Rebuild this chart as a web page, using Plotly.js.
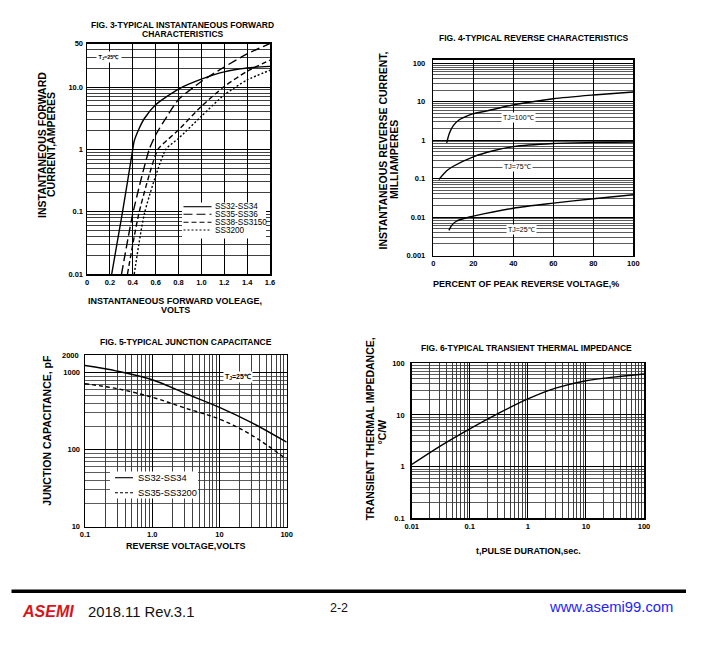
<!DOCTYPE html>
<html>
<head>
<meta charset="utf-8">
<script src="https://cdn.plot.ly/plotly-3.0.1.min.js"></script>
<style>
html,body{margin:0;padding:0;background:#fff;}
#chart{width:701px;height:649px;}
</style>
</head>
<body>
<div id="chart"></div>
<script>
// ---------------- DATA ----------------
// Fig. 3 - forward characteristics (V, A)
const fwdV_SS32 = [0.216, 0.311, 0.40, 0.412, 0.45, 0.5, 0.6, 0.8, 1.0, 1.2, 1.4, 1.6];
const fwdI_SS32 = [0.01, 0.1, 1.0, 1.35, 2.05, 3.1, 5.2, 9.3, 13.4, 17.5, 20.2, 21.5];
const fwdV_SS35 = [0.302, 0.404, 0.544, 0.6, 0.7, 0.8, 1.0, 1.2, 1.4, 1.6];
const fwdI_SS35 = [0.01, 0.1, 1.0, 1.7, 3.4, 6.3, 12.3, 21, 34, 50];
const fwdV_SS38 = [0.354, 0.457, 0.62, 0.7, 0.8, 1.0, 1.2, 1.4, 1.6];
const fwdI_SS38 = [0.01, 0.1, 1.0, 1.4, 2.05, 4.9, 10.2, 17.9, 27];
const fwdV_SS3200 = [0.413, 0.506, 0.69, 0.8, 1.0, 1.2, 1.4, 1.6];
const fwdI_SS3200 = [0.01, 0.1, 1.0, 1.5, 3.4, 7.5, 13, 18.6];
const fig3Legend = ['SS32-SS34', 'SS35-SS36', 'SS38-SS3150', 'SS3200'];
const fig3XTicks = [0, 0.2, 0.4, 0.6, 0.8, 1.0, 1.2, 1.4, 1.6];
const fig3XTickText = ['0', '0.2', '0.4', '0.6', '0.8', '1.0', '1.2', '1.4', '1.6'];
const fig3YTicks = [0.01, 0.1, 1, 10, 50];
const fig3YTickText = ['0.01', '0.1', '1', '10.0', '50'];

// Fig. 4 - reverse characteristics (% of peak reverse voltage, mA)
const revPct_100 = [6.7, 8, 10, 13, 17, 20, 27, 40, 60, 80, 100];
const revI_100 = [0.85, 1.5, 2.4, 3.4, 4.3, 4.9, 5.8, 8.3, 12, 15, 18];
const revPct_75 = [2.8, 6.7, 10, 20, 30, 40, 60, 80, 100];
const revI_75 = [0.095, 0.16, 0.21, 0.37, 0.53, 0.68, 0.82, 0.88, 0.9];
const revPct_25 = [7.8, 9.2, 11.7, 16.7, 20, 40, 60, 80, 100];
const revI_25 = [0.0045, 0.0061, 0.0079, 0.0096, 0.0106, 0.017, 0.023, 0.03, 0.038];
const fig4Labels = ['TJ=100℃', 'TJ=75℃', 'TJ=25℃'];
const fig4XTicks = [0, 20, 40, 60, 80, 100];
const fig4YTicks = [0.001, 0.01, 0.1, 1, 10, 100];
const fig4YTickText = ['0.001', '0.01', '0.1', '1', '10', '100'];

// Fig. 5 - junction capacitance (V, pF)
const capV = [0.1, 0.3, 1, 3, 10, 30, 100];
const capC_SS32 = [1240, 1050, 810, 545, 355, 225, 125];
const capC_SS35 = [720, 620, 480, 350, 250, 155, 75];
const fig5Legend = ['SS32-SS34', 'SS35-SS3200'];
const fig5XTicks = [0.1, 1, 10, 100];
const fig5XTickText = ['0.1', '1.0', '10', '100'];
const fig5YTicks = [10, 100, 1000];
const fig5YTickText = ['10', '100', '1000'];
const fig5TopLabel = '2000';

// Fig. 6 - transient thermal impedance (s, °C/W)
const pulseT = [0.01, 0.03, 0.1, 0.3, 1, 3, 10, 30, 100];
const thermZ = [1.1, 2.45, 5.4, 10.5, 20.4, 33, 46, 54, 62];
const fig6XTicks = [0.01, 0.1, 1, 10, 100];
const fig6XTickText = ['0.01', '0.1', '1', '10', '100'];
const fig6YTicks = [0.1, 1, 10, 100];
const fig6YTickText = ['0.1', '1', '10', '100'];

// ---------------- LAYOUT HELPERS ----------------
const W = 701, H = 649;
const FONT = 'Liberation Sans, Arial, Helvetica, sans-serif';
const px = v => v / W;
const py = v => 1 - v / H;
const dX = (a, b) => [a / W, b / W];
const dY = (top, bottom) => [1 - bottom / H, 1 - top / H];

function logMinor(lo, hi) {
  const out = [];
  for (let k = lo; k < hi; k++) {
    for (let d = 2; d <= 9; d++) out.push(d * Math.pow(10, k));
  }
  return out;
}

const tickFont = {family: FONT, size: 7.5, color: '#000', weight: 'bold'};
function axis(extra) {
  return Object.assign({
    showline: true, mirror: true, linecolor: '#000', linewidth: 1.5,
    showgrid: true, gridcolor: '#000', gridwidth: 1,
    zeroline: false, ticks: '', tickfont: tickFont, fixedrange: true,
    tickmode: 'array'
  }, extra);
}
function minorGrid(vals, color) {
  return {tickmode: 'array', tickvals: vals, showgrid: true, gridcolor: color || '#111', gridwidth: 0.8, ticks: ''};
}

function line(x, y, xa, ya, dash, smooth) {
  return {
    x: x, y: y, xaxis: xa, yaxis: ya, mode: 'lines', hoverinfo: 'skip', showlegend: false,
    line: {color: '#000', width: 1.4, dash: dash || 'solid', shape: 'spline', smoothing: smooth || 0.8}
  };
}

const dashStyles3 = ['solid', '9px,4px', '5px,3px', '2px,2px'];

const traces = [
  line(fwdV_SS32, fwdI_SS32, 'x', 'y', dashStyles3[0], 0.6),
  line(fwdV_SS35, fwdI_SS35, 'x', 'y', dashStyles3[1], 0.6),
  line(fwdV_SS38, fwdI_SS38, 'x', 'y', dashStyles3[2], 0.6),
  line(fwdV_SS3200, fwdI_SS3200, 'x', 'y', dashStyles3[3], 0.6),
  line(revPct_100, revI_100, 'x2', 'y2', 'solid', 0.7),
  line(revPct_75, revI_75, 'x2', 'y2', 'solid', 0.7),
  line(revPct_25, revI_25, 'x2', 'y2', 'solid', 0.7),
  line(capV, capC_SS32, 'x3', 'y3', 'solid', 1),
  line(capV, capC_SS35, 'x3', 'y3', '4px,3px', 1),
  line(pulseT, thermZ, 'x4', 'y4', 'solid', 1)
];

// ---------------- ANNOTATIONS ----------------
function txt(text, x, y, size, opts) {
  return Object.assign({
    text: text, x: px(x), y: py(y), xref: 'paper', yref: 'paper',
    showarrow: false, xanchor: 'center', yanchor: 'middle',
    font: {family: FONT, size: size, color: '#000', weight: 'bold'}
  }, opts || {});
}
function vtxt(text, x, y, size) {
  return txt(text, x, y, size, {textangle: -90});
}
const plainFont = s => ({family: FONT, size: s, color: '#000'});

const annotations = [
  // Fig 3
  txt('FIG. 3-TYPICAL INSTANTANEOUS FORWARD', 182.5, 25, 8.5),
  txt('CHARACTERISTICS', 182.5, 34, 8.5),
  vtxt('INSTANTANEOUS FORWARD', 42, 145, 10.5),
  vtxt('CURRENT,AMPERES', 51, 145, 10.5),
  txt('INSTANTANEOUS FORWARD VOLEAGE,', 175.5, 301, 9),
  txt('VOLTS', 175.5, 309.5, 9),
  txt('T<sub>J</sub>=25℃', 108.5, 57, 5.5, {bgcolor: '#fff', borderpad: 1.5}),
  // Fig 4
  txt('FIG. 4-TYPICAL REVERSE CHARACTERISTICS', 533.5, 37.7, 8.5),
  vtxt('INSTANTANEOUS REVERSE CURRENT,', 382.5, 151, 10.5),
  vtxt('MILLIAMPERES', 394, 160, 10.5),
  txt('PERCENT OF PEAK REVERSE VOLTAGE,%', 525.5, 284.3, 9),
  txt(fig4Labels[0], 518, 117.7, 7, {bgcolor: '#fff', borderpad: 1, font: plainFont(7)}),
  txt(fig4Labels[1], 517, 166.8, 7, {bgcolor: '#fff', borderpad: 1, font: plainFont(7)}),
  txt(fig4Labels[2], 521.5, 229, 7, {bgcolor: '#fff', borderpad: 1, font: plainFont(7)}),
  // Fig 5
  txt('FIG. 5-TYPICAL JUNCTION CAPACITANCE', 185.8, 341.7, 8.5),
  vtxt('JUNCTION CAPACITANCE, pF', 46.7, 430, 10.5),
  txt('REVERSE VOLTAGE,VOLTS', 185.8, 546, 9),
  txt('T<sub>J</sub>=25℃', 237.5, 376.7, 7, {bgcolor: '#fff', borderpad: 1}),
  txt(fig5TopLabel, 80.5, 355.5, 7.5, {xanchor: 'right'}),
  // Fig 6
  txt('FIG. 6-TYPICAL TRANSIENT THERMAL IMPEDANCE', 526.7, 348.3, 8.5),
  vtxt('TRANSIENT THERMAL IMPEDANCE,', 370, 428.3, 10.5),
  vtxt('°C/W', 381.7, 431.7, 10.5),
  txt('t,PULSE DURATION,sec.', 528.3, 550.7, 9),
  // footer
  txt('ASEMI', 47.5, 611, 16, {font: {family: FONT, size: 16, color: '#d6161c', weight: 'bold', style: 'italic'}}),
  txt('2018.11 Rev.3.1', 86, 611.5, 14.8, {xanchor: 'left', font: {family: FONT, size: 14.8, color: '#111'}}),
  txt('2-2', 338.5, 608, 12.5, {font: {family: FONT, size: 12.5, color: '#111'}}),
  txt('www.asemi99.com', 675, 606.5, 14.8, {xanchor: 'right', font: {family: FONT, size: 14.8, color: '#2323ff'}})
];

// legend texts
const leg3Rows = [206.7, 214.3, 222.3, 230];
fig3Legend.forEach((t, i) => {
  annotations.push(txt(t, 213.3, leg3Rows[i], 8.2, {xanchor: 'left', font: plainFont(8.2)}));
});
const leg5Rows = [477.7, 492.7];
fig5Legend.forEach((t, i) => {
  annotations.push(txt(t, 136, leg5Rows[i], 9.3, {xanchor: 'left', font: plainFont(9.3)}));
});

// ---------------- SHAPES ----------------
const shapes = [
  // legend boxes (white, over the grid)
  {type: 'rect', xref: 'paper', yref: 'paper', x0: px(182), x1: px(266), y0: py(238.5), y1: py(202.5),
   fillcolor: '#ffffff', opacity: 1, line: {width: 0}, layer: 'above'},
  {type: 'rect', xref: 'paper', yref: 'paper', x0: px(110), x1: px(198), y0: py(498.5), y1: py(471.5),
   fillcolor: '#ffffff', opacity: 1, line: {width: 0}, layer: 'above'},
  // footer rule
  {type: 'line', xref: 'paper', yref: 'paper', x0: px(11.5), x1: px(686), y0: py(591.3), y1: py(591.3),
   line: {color: '#000', width: 3.5}}
];
dashStyles3.forEach((d, i) => {
  shapes.push({type: 'line', xref: 'paper', yref: 'paper', x0: px(183.5), x1: px(211.5),
    y0: py(leg3Rows[i]), y1: py(leg3Rows[i]), line: {color: '#000', width: 1.1, dash: d}, layer: 'above'});
});
['solid', '3px,2px'].forEach((d, i) => {
  shapes.push({type: 'line', xref: 'paper', yref: 'paper', x0: px(115), x1: px(133),
    y0: py(leg5Rows[i]), y1: py(leg5Rows[i]), line: {color: '#000', width: 1.1, dash: d}, layer: 'above'});
});

// ---------------- AXES ----------------
const layout = {
  width: W, height: H,
  margin: {l: 0, r: 0, t: 0, b: 0, pad: 0},
  paper_bgcolor: '#fff', plot_bgcolor: '#fff',
  showlegend: false,
  font: {family: FONT, color: '#000'},
  // Fig 3
  xaxis: axis({domain: dX(87, 270), range: [0, 1.6], anchor: 'y',
    tickvals: fig3XTicks, ticktext: fig3XTickText}),
  yaxis: axis({domain: dY(43.5, 274), type: 'log', range: [-2, Math.log10(50)], anchor: 'x',
    tickvals: fig3YTicks, ticktext: fig3YTickText, ticklabelstandoff: 1,
    minor: minorGrid(logMinor(-2, 2))}),
  // Fig 4
  xaxis2: axis({domain: dX(433.3, 633.3), range: [0, 100], anchor: 'y2',
    tickvals: fig4XTicks, ticktext: fig4XTicks.map(String)}),
  yaxis2: axis({domain: dY(59.5, 255.5), type: 'log', range: [-3, 2.1], anchor: 'x2',
    tickvals: fig4YTicks, ticktext: fig4YTickText, ticklabelstandoff: 5,
    minor: minorGrid(logMinor(-3, 3), '#333')}),
  // Fig 5
  xaxis3: axis({domain: dX(85, 286.7), type: 'log', range: [-1, 2], anchor: 'y3',
    tickvals: fig5XTicks, ticktext: fig5XTickText,
    minor: minorGrid(logMinor(-1, 2))}),
  yaxis3: axis({domain: dY(355, 526.7), type: 'log', range: [1, 3.23], anchor: 'x3',
    tickvals: fig5YTicks, ticktext: fig5YTickText, ticklabelstandoff: 2,
    minor: minorGrid(logMinor(1, 4), '#333')}),
  // Fig 6
  xaxis4: axis({domain: dX(411.7, 644), type: 'log', range: [-2, 2], anchor: 'y4',
    tickvals: fig6XTicks, ticktext: fig6XTickText,
    minor: minorGrid(logMinor(-2, 2))}),
  yaxis4: axis({domain: dY(363.3, 518.3), type: 'log', range: [-1, 2], anchor: 'x4',
    tickvals: fig6YTicks, ticktext: fig6YTickText, ticklabelstandoff: 4,
    minor: minorGrid(logMinor(-1, 2), '#333')}),
  annotations: annotations,
  shapes: shapes
};

Plotly.newPlot('chart', traces, layout, {staticPlot: true, displayModeBar: false});
</script>
</body>
</html>
